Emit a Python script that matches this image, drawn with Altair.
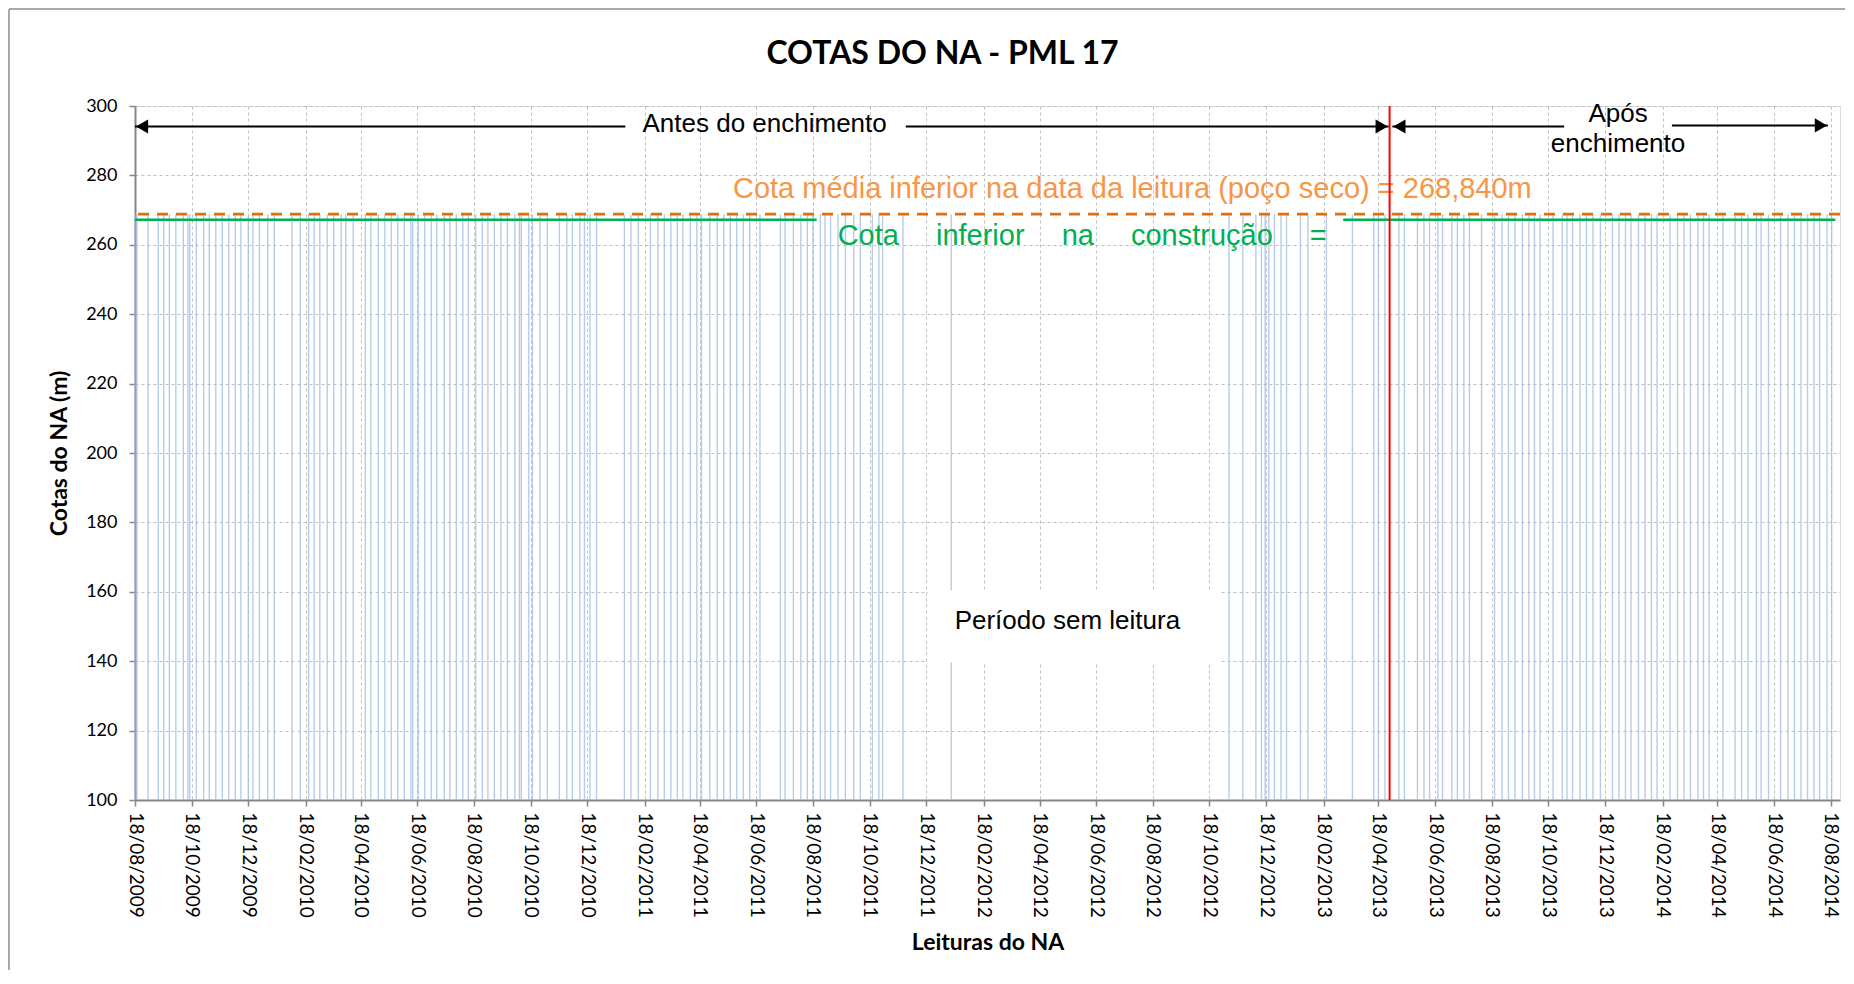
import altair as alt
import pandas as pd

# ---------------- data ----------------
reading_dates = [
    "2009-08-18", "2009-08-20", "2009-09-01", "2009-09-12", "2009-09-18", "2009-09-24",
    "2009-10-01", "2009-10-09", "2009-10-14", "2009-10-16", "2009-10-23", "2009-10-31",
    "2009-11-06", "2009-11-13", "2009-11-20", "2009-11-27", "2009-12-04", "2009-12-10",
    "2009-12-18", "2009-12-23", "2009-12-30",
    "2010-01-08", "2010-01-15", "2010-02-03", "2010-02-12", "2010-02-21", "2010-02-27",
    "2010-03-05", "2010-03-13", "2010-03-20", "2010-03-28", "2010-04-02", "2010-04-10",
    "2010-04-23", "2010-04-29", "2010-05-07", "2010-05-14", "2010-05-21", "2010-05-28",
    "2010-06-04", "2010-06-11", "2010-06-13", "2010-06-19", "2010-06-26", "2010-07-03",
    "2010-07-09", "2010-07-17", "2010-07-23", "2010-07-30", "2010-08-06", "2010-08-12",
    "2010-08-20", "2010-08-27", "2010-09-02", "2010-09-09", "2010-09-16", "2010-09-23",
    "2010-10-01", "2010-10-06", "2010-10-08", "2010-10-16", "2010-10-20", "2010-10-28",
    "2010-11-05", "2010-11-18", "2010-11-26", "2010-12-02", "2010-12-10", "2010-12-15",
    "2010-12-21", "2010-12-28",
    "2011-01-27", "2011-02-03", "2011-02-11", "2011-02-24", "2011-03-04", "2011-03-11",
    "2011-03-18", "2011-03-25", "2011-03-31", "2011-04-08", "2011-04-15", "2011-04-20",
    "2011-04-29", "2011-05-07", "2011-05-14", "2011-05-21", "2011-05-28", "2011-06-04",
    "2011-06-11", "2011-06-22", "2011-07-14", "2011-07-19", "2011-07-28", "2011-08-05",
    "2011-08-12", "2011-08-18", "2011-08-26", "2011-08-31", "2011-09-06", "2011-09-14",
    "2011-09-22", "2011-10-01", "2011-10-08", "2011-10-21", "2011-10-28", "2011-11-01",
    "2011-11-23", "2012-01-14",
    "2012-11-08", "2012-11-23", "2012-12-07", "2012-12-13", "2012-12-17", "2012-12-21",
    "2012-12-27", "2013-01-03", "2013-01-09", "2013-01-24", "2013-02-01", "2013-02-21",
    "2013-03-21", "2013-04-13", "2013-04-18", "2013-04-25",
    "2013-05-10", "2013-05-16", "2013-05-30", "2013-06-06", "2013-06-12", "2013-06-21",
    "2013-06-26", "2013-07-06", "2013-07-12", "2013-07-19", "2013-07-25", "2013-08-07",
    "2013-08-21", "2013-08-29", "2013-09-05", "2013-09-12", "2013-09-20", "2013-09-27",
    "2013-10-03", "2013-10-09", "2013-10-23", "2013-11-02", "2013-11-07", "2013-11-13",
    "2013-11-21", "2013-11-28", "2013-12-05", "2013-12-13", "2013-12-26",
    "2014-01-02", "2014-01-09", "2014-01-15", "2014-01-23", "2014-01-30", "2014-02-06",
    "2014-02-12", "2014-02-26", "2014-03-06", "2014-03-13", "2014-03-20", "2014-03-28",
    "2014-04-03", "2014-04-09", "2014-04-24", "2014-05-07", "2014-05-14", "2014-05-21",
    "2014-05-30", "2014-06-04", "2014-06-12", "2014-06-25", "2014-07-03", "2014-07-10",
    "2014-07-17", "2014-07-24", "2014-07-31", "2014-08-06", "2014-08-14", "2014-08-19",
]
dry_well_level = 268.84          # Cota média inferior (poço seco)
construction_level = 267.2       # Cota inferior na construção
filling_date = "2013-04-30"      # enchimento

x_tick_labels = [
    "18/08/2009", "18/10/2009", "18/12/2009", "18/02/2010", "18/04/2010", "18/06/2010",
    "18/08/2010", "18/10/2010", "18/12/2010", "18/02/2011", "18/04/2011", "18/06/2011",
    "18/08/2011", "18/10/2011", "18/12/2011", "18/02/2012", "18/04/2012", "18/06/2012",
    "18/08/2012", "18/10/2012", "18/12/2012", "18/02/2013", "18/04/2013", "18/06/2013",
    "18/08/2013", "18/10/2013", "18/12/2013", "18/02/2014", "18/04/2014", "18/06/2014",
    "18/08/2014",
]
y_ticks = [100, 120, 140, 160, 180, 200, 220, 240, 260, 280, 300]
x_domain = ["2009-08-18", "2014-08-28"]
y_domain = [100, 300]

# annotation anchors (in data units)
texts_black = [
    ("Antes do enchimento", "2011-06-27", 294.8),
    ("Após", "2014-01-01", 297.6),
    ("enchimento", "2014-01-01", 289.0),
    ("Período sem leitura", "2012-05-18", 151.6),
]
text_orange = ("Cota média inferior na data da leitura (poço seco) = 268,840m", "2012-07-27", 276.1)
gap = "\u2002\u2002\u00a0"
text_green = (gap.join(["Cota", "inferior", "na", "construção", "="]), "2012-06-03", 262.4)
green_segments = [("2009-08-18", "2011-08-22"), ("2013-03-11", "2014-08-23")]
white_boxes = [
    ("2011-12-20", "2012-10-31", 139.6, 160.4),
]
arrow_lines = [
    ("2009-08-18", "2011-01-28", 294.1),
    ("2011-11-26", "2013-04-29", 294.1),
    ("2013-05-03", "2013-11-04", 294.1),
    ("2014-02-28", "2014-08-15", 294.4),
]
arrow_heads_left = [("2009-08-18", 294.1), ("2013-05-03", 294.1)]
arrow_heads_right = [("2013-04-29", 294.1), ("2014-08-15", 294.4)]


def to_dt(s):
    y, m, d = s.split("-")
    return alt.DateTime(year=int(y), month=int(m), date=int(d))


def label_to_dt(lbl):
    d, m, y = lbl.split("/")
    return alt.DateTime(year=int(y), month=int(m), date=int(d))


def ts(s):
    return s + "T00:00:00"


# ---------------- scales / axes ----------------
xscale = alt.Scale(domain=[to_dt(v) for v in x_domain])
yscale = alt.Scale(domain=y_domain, nice=False, zero=False)

xaxis = alt.Axis(
    values=[label_to_dt(l) for l in x_tick_labels], format="%d/%m/%Y",
    labelAngle=90, labelFont="Lato", labelFontSize=19, labelColor="black",
    labelPadding=6, labelOverlap=False, labelFlush=False,
    tickSize=6, tickColor="#868686", tickWidth=1.5,
    domainColor="#868686", domainWidth=2,
    grid=True, gridColor="#BFBFBF", gridDash=[3, 3], gridWidth=1,
    title="Leituras do NA", titleFont="Lato", titleFontSize=23,
    titleFontWeight="bold", titleColor="black", titlePadding=14,
)
yaxis = alt.Axis(
    values=y_ticks, labelFont="Lato", labelFontSize=18, labelColor="black",
    labelPadding=12, tickSize=6, tickColor="#868686", tickWidth=1.5,
    domainColor="#868686", domainWidth=2,
    grid=True, gridColor="#BFBFBF", gridDash=[3, 3], gridWidth=1,
    title="Cotas do NA (m)", titleFont="Lato", titleFontSize=23,
    titleFontWeight="bold", titleColor="black", titlePadding=14,
)


def X(field="date"):
    return alt.X(field, type="temporal", scale=xscale, axis=xaxis)


def Y(field="y"):
    return alt.Y(field, type="quantitative", scale=yscale, axis=yaxis)


# ---------------- layers ----------------
bars_df = pd.DataFrame({"date": [ts(d) for d in reading_dates],
                        "y": [dry_well_level] * len(reading_dates)})
bars = alt.Chart(bars_df).mark_rule(color="#9FBBE0", strokeWidth=1.4, opacity=0.75).encode(
    x=X(), y=Y(), y2=alt.datum(y_domain[0]))

green_df = pd.DataFrame([{"date": ts(a), "date2": ts(b), "y": construction_level} for a, b in green_segments])
green_line = alt.Chart(green_df).mark_rule(color="#00B050", strokeWidth=2.5).encode(
    x=X(), x2="date2:T", y=Y())
orange_line = alt.Chart(pd.DataFrame({"y": [dry_well_level]})).mark_rule(
    color="#E46C0A", strokeWidth=2.6, strokeDash=[11, 8]).encode(y=Y())

box_df = pd.DataFrame([{"date": ts(a), "date2": ts(b), "y": c, "y2": d} for a, b, c, d in white_boxes])
boxes = alt.Chart(box_df).mark_rect(color="white").encode(
    x=X(), x2="date2:T", y=Y(), y2="y2:Q")

black_df = pd.DataFrame([{"label": t, "date": ts(d), "y": v} for t, d, v in texts_black])
black_text = alt.Chart(black_df).mark_text(
    font="Liberation Sans", fontSize=26, color="black", align="center", baseline="middle"
).encode(x=X(), y=Y(), text="label:N")

orange_df = pd.DataFrame([{"label": text_orange[0], "date": ts(text_orange[1]), "y": text_orange[2]}])
orange_text = alt.Chart(orange_df).mark_text(
    font="Liberation Sans", fontSize=29, color="#F79646", align="center", baseline="middle"
).encode(x=X(), y=Y(), text="label:N")

gtext_df = pd.DataFrame([{"label": text_green[0], "date": ts(text_green[1]), "y": text_green[2]}])
green_text = alt.Chart(gtext_df).mark_text(
    font="Liberation Sans", fontSize=29, color="#00B050", align="center", baseline="middle"
).encode(x=X(), y=Y(), text="label:N")

arr_df = pd.DataFrame([{"date": ts(a), "date2": ts(b), "y": v} for a, b, v in arrow_lines])
arrows = alt.Chart(arr_df).mark_rule(color="black", strokeWidth=2).encode(
    x=X(), x2="date2:T", y=Y())

hl_df = pd.DataFrame([{"date": ts(a), "y": v} for a, v in arrow_heads_left])
heads_left = alt.Chart(hl_df).mark_point(
    shape="triangle-left", filled=True, color="black", size=200, opacity=1, xOffset=7
).encode(x=X(), y=Y())
hr_df = pd.DataFrame([{"date": ts(a), "y": v} for a, v in arrow_heads_right])
heads_right = alt.Chart(hr_df).mark_point(
    shape="triangle-right", filled=True, color="black", size=200, opacity=1, xOffset=-7
).encode(x=X(), y=Y())

red_line = alt.Chart(pd.DataFrame({"date": [ts(filling_date)]})).mark_rule(
    color="#FF0000", strokeWidth=2).encode(x=X())

# chart frame (decoration)
frame_top = alt.Chart(pd.DataFrame({"a": [0]})).mark_rule(color="#8C8C8C", strokeWidth=1.5).encode(
    x=alt.value(-126), x2=alt.value(1710), y=alt.value(-97))
frame_left = alt.Chart(pd.DataFrame({"a": [0]})).mark_rule(color="#8C8C8C", strokeWidth=1.5).encode(
    x=alt.value(-126), y=alt.value(-97), y2=alt.value(870))

chart = alt.layer(
    bars, green_line, orange_line, boxes, black_text, orange_text, green_text,
    arrows, heads_left, heads_right, red_line, frame_top, frame_left,
).properties(
    width=1705, height=694,
    autosize=alt.AutoSizeParams(type="none"),
    padding={"left": 127, "top": 98, "right": 5, "bottom": 170},
    title=alt.TitleParams("COTAS DO NA - PML 17", font="Lato", fontSize=32,
                          fontWeight="bold", color="black", anchor="middle",
                          dx=-45, offset=-63),
).configure_view(stroke="#BFBFBF", strokeDash=[3, 3], strokeWidth=1).configure(background="white")

chart.save("out.html", embed_options={"renderer": "svg", "actions": False})
